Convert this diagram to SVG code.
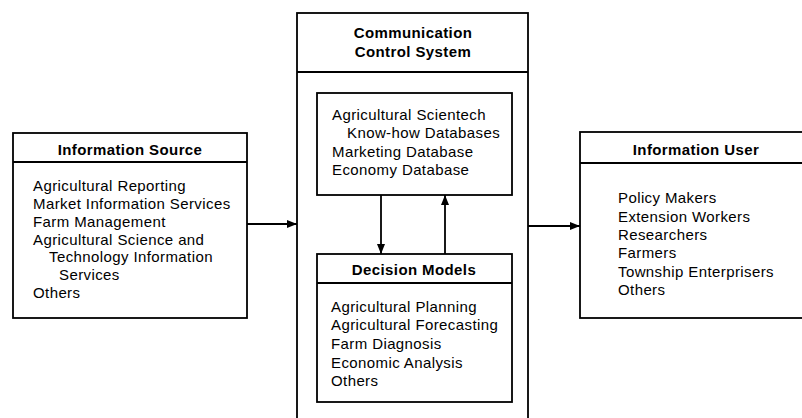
<svg xmlns="http://www.w3.org/2000/svg" width="802" height="418" viewBox="0 0 802 418">
<defs>
<marker id="ah" viewBox="0 0 10 8" refX="10" refY="4" markerWidth="10" markerHeight="8" markerUnits="userSpaceOnUse" orient="auto">
<path d="M0,0 L10,4 L0,8 Z" fill="#000"/>
</marker>
<style>
.box{fill:#fff;stroke:#000;stroke-width:1.8}
.ln{stroke:#000;stroke-width:1.8;fill:none}
.t{font-family:"Liberation Sans",Arial,sans-serif;font-size:15px;letter-spacing:0.4px;fill:#000}
.h{font-family:"Liberation Sans",Arial,sans-serif;font-size:15px;font-weight:bold;letter-spacing:0.4px;fill:#000;text-anchor:middle}
.c{stroke:#000;stroke-width:1.8;fill:none;marker-end:url(#ah)}
</style>
</defs>
<rect width="802" height="418" fill="#fff"/>
<g id="source">
<rect class="box" x="13" y="133" width="234" height="185"/>
<line class="ln" x1="13" y1="162" x2="247" y2="162"/>
<text class="h" x="130" y="155">Information Source</text>
<text class="t" x="33" y="191">Agricultural Reporting</text>
<text class="t" x="33" y="209">Market Information Services</text>
<text class="t" x="33" y="227">Farm Management</text>
<text class="t" x="33" y="245">Agricultural Science and</text>
<text class="t" x="49" y="262">Technology Information</text>
<text class="t" x="59" y="280">Services</text>
<text class="t" x="33" y="298">Others</text>
</g>
<g id="control">
<rect class="box" x="297" y="13" width="231" height="420"/>
<line class="ln" x1="297" y1="72" x2="528" y2="72"/>
<text class="h" x="413" y="38">Communication</text>
<text class="h" x="413" y="57">Control System</text>
</g>
<g id="databases">
<rect class="box" x="317" y="93" width="195" height="102"/>
<text class="t" x="332" y="120">Agricultural Scientech</text>
<text class="t" x="347" y="138">Know-how Databases</text>
<text class="t" x="332" y="157">Marketing Database</text>
<text class="t" x="332" y="175">Economy Database</text>
</g>
<g id="decision">
<rect class="box" x="317" y="254" width="195" height="148"/>
<line class="ln" x1="317" y1="283" x2="512" y2="283"/>
<text class="h" x="414" y="275">Decision Models</text>
<text class="t" x="331" y="312">Agricultural Planning</text>
<text class="t" x="331" y="330">Agricultural Forecasting</text>
<text class="t" x="331" y="349">Farm Diagnosis</text>
<text class="t" x="331" y="368">Economic Analysis</text>
<text class="t" x="331" y="386">Others</text>
</g>
<g id="user">
<rect class="box" x="580" y="132" width="240" height="186"/>
<line class="ln" x1="580" y1="163" x2="820" y2="163"/>
<text class="h" x="696" y="155">Information User</text>
<text class="t" x="618" y="203">Policy Makers</text>
<text class="t" x="618" y="222">Extension Workers</text>
<text class="t" x="618" y="240">Researchers</text>
<text class="t" x="618" y="258">Farmers</text>
<text class="t" x="618" y="277">Township Enterprisers</text>
<text class="t" x="618" y="295">Others</text>
</g>
<g id="connectors">
<line class="c" x1="247" y1="224" x2="297" y2="224"/>
<line class="c" x1="528" y1="226" x2="580" y2="226"/>
<line class="c" x1="381" y1="195" x2="381" y2="254"/>
<line class="c" x1="445" y1="254" x2="445" y2="195"/>
</g>
</svg>
